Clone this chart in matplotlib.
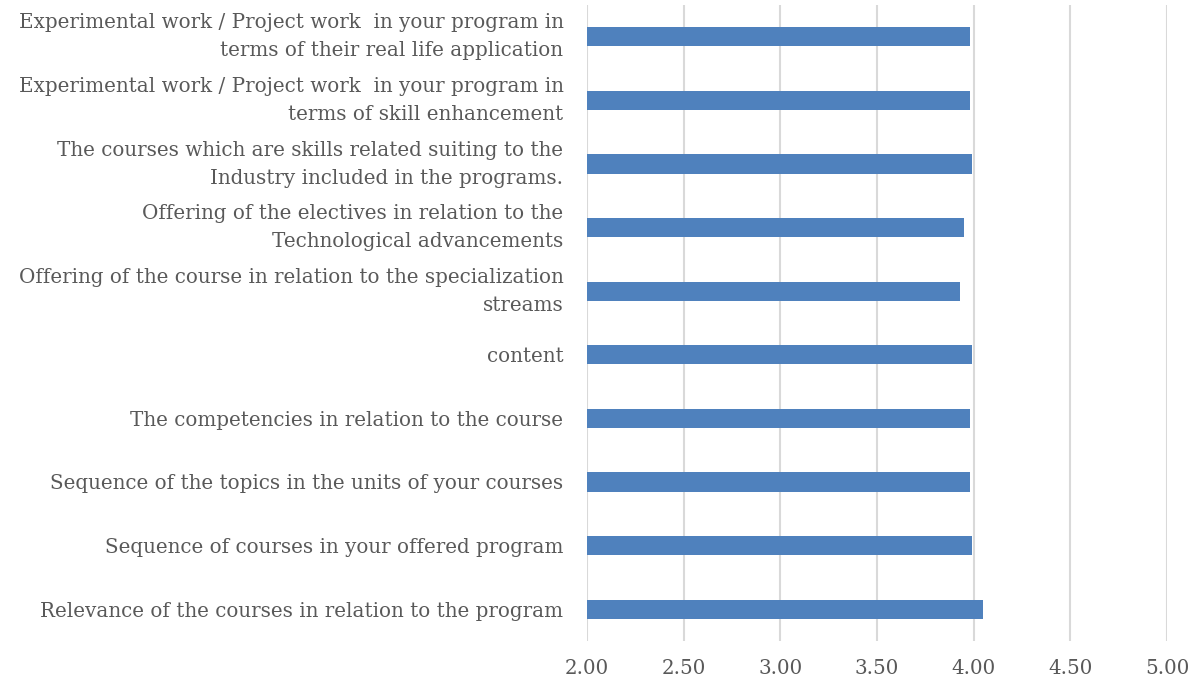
import matplotlib.pyplot as plt

# categories from bottom to top, as drawn
labels = [
    "Relevance of the courses in relation to the program",
    "Sequence of courses in your offered program",
    "Sequence of the topics in the units of your courses",
    "The competencies in relation to the course",
    "content",
    "Offering of the course in relation to the specialization\nstreams",
    "Offering of the electives in relation to the\nTechnological advancements",
    "The courses which are skills related suiting to the\nIndustry included in the programs.",
    "Experimental work / Project work  in your program in\nterms of skill enhancement",
    "Experimental work / Project work  in your program in\nterms of their real life application",
]
scores = [4.05, 3.99, 3.98, 3.98, 3.99, 3.93, 3.95, 3.99, 3.98, 3.98]
xticks = [2.0, 2.5, 3.0, 3.5, 4.0, 4.5, 5.0]

plt.rcParams['font.family'] = ['DejaVu Serif']

fig = plt.figure(figsize=(11.92, 6.78), dpi=100)
ax = fig.add_axes([587 / 1192, 1 - 641 / 678, 580 / 1192, 636 / 678])

ypos = list(range(len(labels)))
ax.barh(ypos, [s - 2.0 for s in scores], left=2.0, height=0.3, color='#4F81BD', zorder=3)

ax.set_xlim(2.0, 5.0)
ax.set_ylim(-0.5, len(labels) - 0.5)
ax.set_xticks(xticks)
ax.set_xticklabels([f"{t:.2f}" for t in xticks])
ax.set_yticks(ypos)
ax.set_yticklabels(labels, linespacing=1.6)
# two-line labels sit centred on their bar
for lbl in ax.get_yticklabels():
    if "\n" in lbl.get_text():
        lbl.set_va('center')

ax.grid(axis='x', color='#D9D9D9', linewidth=1.5, zorder=0)
for s in ax.spines.values():
    s.set_visible(False)
ax.tick_params(axis='both', length=0, colors='#595959', labelsize=14.3)
ax.tick_params(axis='y', pad=17)
ax.tick_params(axis='x', pad=13)

fig.savefig('out.png', dpi=100)
